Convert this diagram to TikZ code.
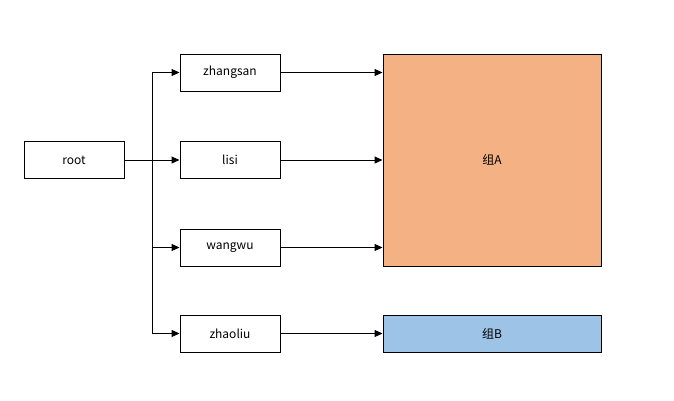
\documentclass[tikz,border=0pt]{standalone}
\usepackage{fontspec}
\setmainfont{Noto Sans CJK SC}
\usetikzlibrary{arrows.meta}
\definecolor{orangeA}{HTML}{F4B183}
\definecolor{blueB}{HTML}{9DC3E6}
\begin{document}
\begin{tikzpicture}[x=1pt,y=-1pt,
  box/.style={draw=black,line width=1pt,minimum width=100pt,minimum height=37pt,inner sep=0pt,font=\fontsize{12}{14}\selectfont},
  conn/.style={draw=black,line width=1pt,-{Triangle[length=8pt,width=7pt]}}]
\useasboundingbox (0,0) rectangle (674,400);
\node[box] (root) at (74,160) {root};
\node[box] (zs) at (230,72.5) {zhangsan};
\node[box] (ls) at (230,160) {lisi};
\node[box] (ww) at (230,247.5) {wangwu};
\node[box] (zl) at (230,333.5) {zhaoliu};
\node[box,fill=orangeA,minimum width=218pt,minimum height=212pt] (A) at (492,160) {组A};
\node[box,fill=blueB,minimum width=218pt,minimum height=37pt] (B) at (492,333.5) {组B};
\coordinate (bus) at (152,160);
\draw[conn] (root.east) -- (ls.west);
\draw[conn] (bus) |- (zs.west);
\draw[conn] (bus) |- (ww.west);
\draw[conn] (bus) |- (zl.west);
\draw[conn] (zs.east) -- (zs.east -| A.west);
\draw[conn] (ls.east) -- (ls.east -| A.west);
\draw[conn] (ww.east) -- (ww.east -| A.west);
\draw[conn] (zl.east) -- (B.west);
\end{tikzpicture}
\end{document}
